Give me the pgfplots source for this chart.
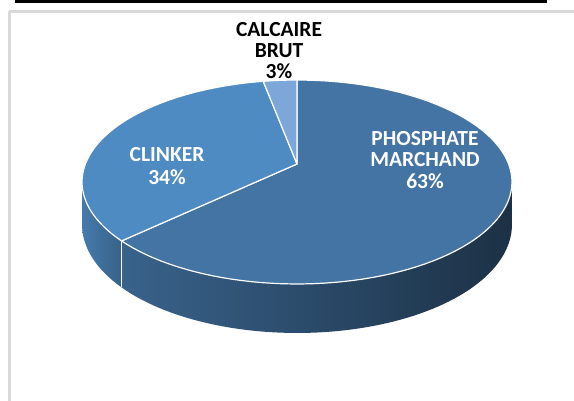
\documentclass[border=0pt]{standalone}
\usepackage{pgfplots}
\usepackage{pgfplotstable}
\pgfplotsset{compat=1.18}
\usepackage{fontspec}
\setmainfont{Carlito}
\definecolor{phosTop}{HTML}{4374A4}
\definecolor{clinTop}{HTML}{4F8BC3}
\definecolor{calcTop}{HTML}{7DA7D8}
\definecolor{frameGray}{HTML}{D9D9D9}
\pgfplotstableread{
label value
PHOSPHATE 63
CLINKER 34
CALCAIRE 3
}\piedata
\begin{document}%
\begin{tikzpicture}[declare function={
  px(\t)=297+211.6*cos(\t)/(1+0.1765*sin(\t));
  py(\t)=164-98.8*sin(\t)/(1+0.1765*sin(\t));
  ph(\t)=41-8*sin(\t);}]
\pgfplotstablegetelem{0}{value}\of\piedata \let\vA\pgfplotsretval
\pgfplotstablegetelem{1}{value}\of\piedata \let\vB\pgfplotsretval
\pgfplotstablegetelem{2}{value}\of\piedata \let\vC\pgfplotsretval
\pgfmathsetmacro{\aZero}{90}
\pgfmathsetmacro{\aOne}{90-3.6*\vA}
\pgfmathsetmacro{\aTwo}{\aOne-3.6*\vB}
\pgfmathsetmacro{\aThree}{\aTwo-3.6*\vC}
\pgfmathsetmacro{\vAi}{int(\vA)}
\pgfmathsetmacro{\vBi}{int(\vB)}
\pgfmathsetmacro{\vCi}{int(\vC)}
\begin{axis}[
  scale only axis, width=574pt, height=401pt,
  xmin=0, xmax=574, ymin=0, ymax=401, y dir=reverse,
  hide axis, clip=false]
% background and frame
\fill[white] (0,0) rectangle (574,401);
\fill[black] (15,0) rectangle (547,3.3);
\draw[frameGray, line width=2.6pt] (9.3,11.3) -- (574,11.3);
\draw[frameGray, line width=2.6pt] (9.3,11.3) -- (9.3,401);
% side of clinker slice
\shade[left color=clinTop!88!black, right color=clinTop!70!black]
  plot[domain=-169.8:\aOne, samples=30, variable=\t] ({px(\t)},{py(\t)})
  -- plot[domain=\aOne:-169.8, samples=30, variable=\t] ({px(\t)},{py(\t)+ph(\t)})
  -- cycle;
% side of phosphate slice
\shade[left color=phosTop!85!black, middle color=phosTop!55!black, right color=phosTop!42!black]
  plot[domain=\aOne:-10.2, samples=80, variable=\t] ({px(\t)},{py(\t)})
  -- plot[domain=-10.2:\aOne, samples=80, variable=\t] ({px(\t)},{py(\t)+ph(\t)})
  -- cycle;
\draw[white, line width=1.2pt] ({px(\aOne)},{py(\aOne)}) -- ({px(\aOne)},{py(\aOne)+ph(\aOne)});
% top faces
\filldraw[fill=phosTop, draw=white, line width=1.2pt, line join=round]
  (297,164) -- plot[domain=\aOne:\aZero, samples=100, variable=\t] ({px(\t)},{py(\t)}) -- cycle;
\filldraw[fill=clinTop, draw=white, line width=1.2pt, line join=round]
  (297,164) -- plot[domain=\aTwo:\aOne, samples=60, variable=\t] ({px(\t)},{py(\t)}) -- cycle;
\filldraw[fill=calcTop, draw=white, line width=1.2pt, line join=round]
  (297,164) -- plot[domain=\aThree:\aTwo, samples=10, variable=\t] ({px(\t)},{py(\t)}) -- cycle;
% labels
\node[align=center, font=\fontsize{21.5}{21}\selectfont\bfseries, text=black] at (279,51) {CALCAIRE\\BRUT\\\vCi\%};
\node[align=center, font=\fontsize{21.5}{22.5}\selectfont\bfseries, text=white] at (167,166) {CLINKER\\\vBi\%};
\node[align=center, font=\fontsize{21.5}{21.5}\selectfont\bfseries, text=white] at (425,160) {PHOSPHATE\\MARCHAND\\\vAi\%};
\end{axis}
\pgfresetboundingbox
\path (current axis.south west) rectangle (current axis.north east);
\end{tikzpicture}%
\end{document}
